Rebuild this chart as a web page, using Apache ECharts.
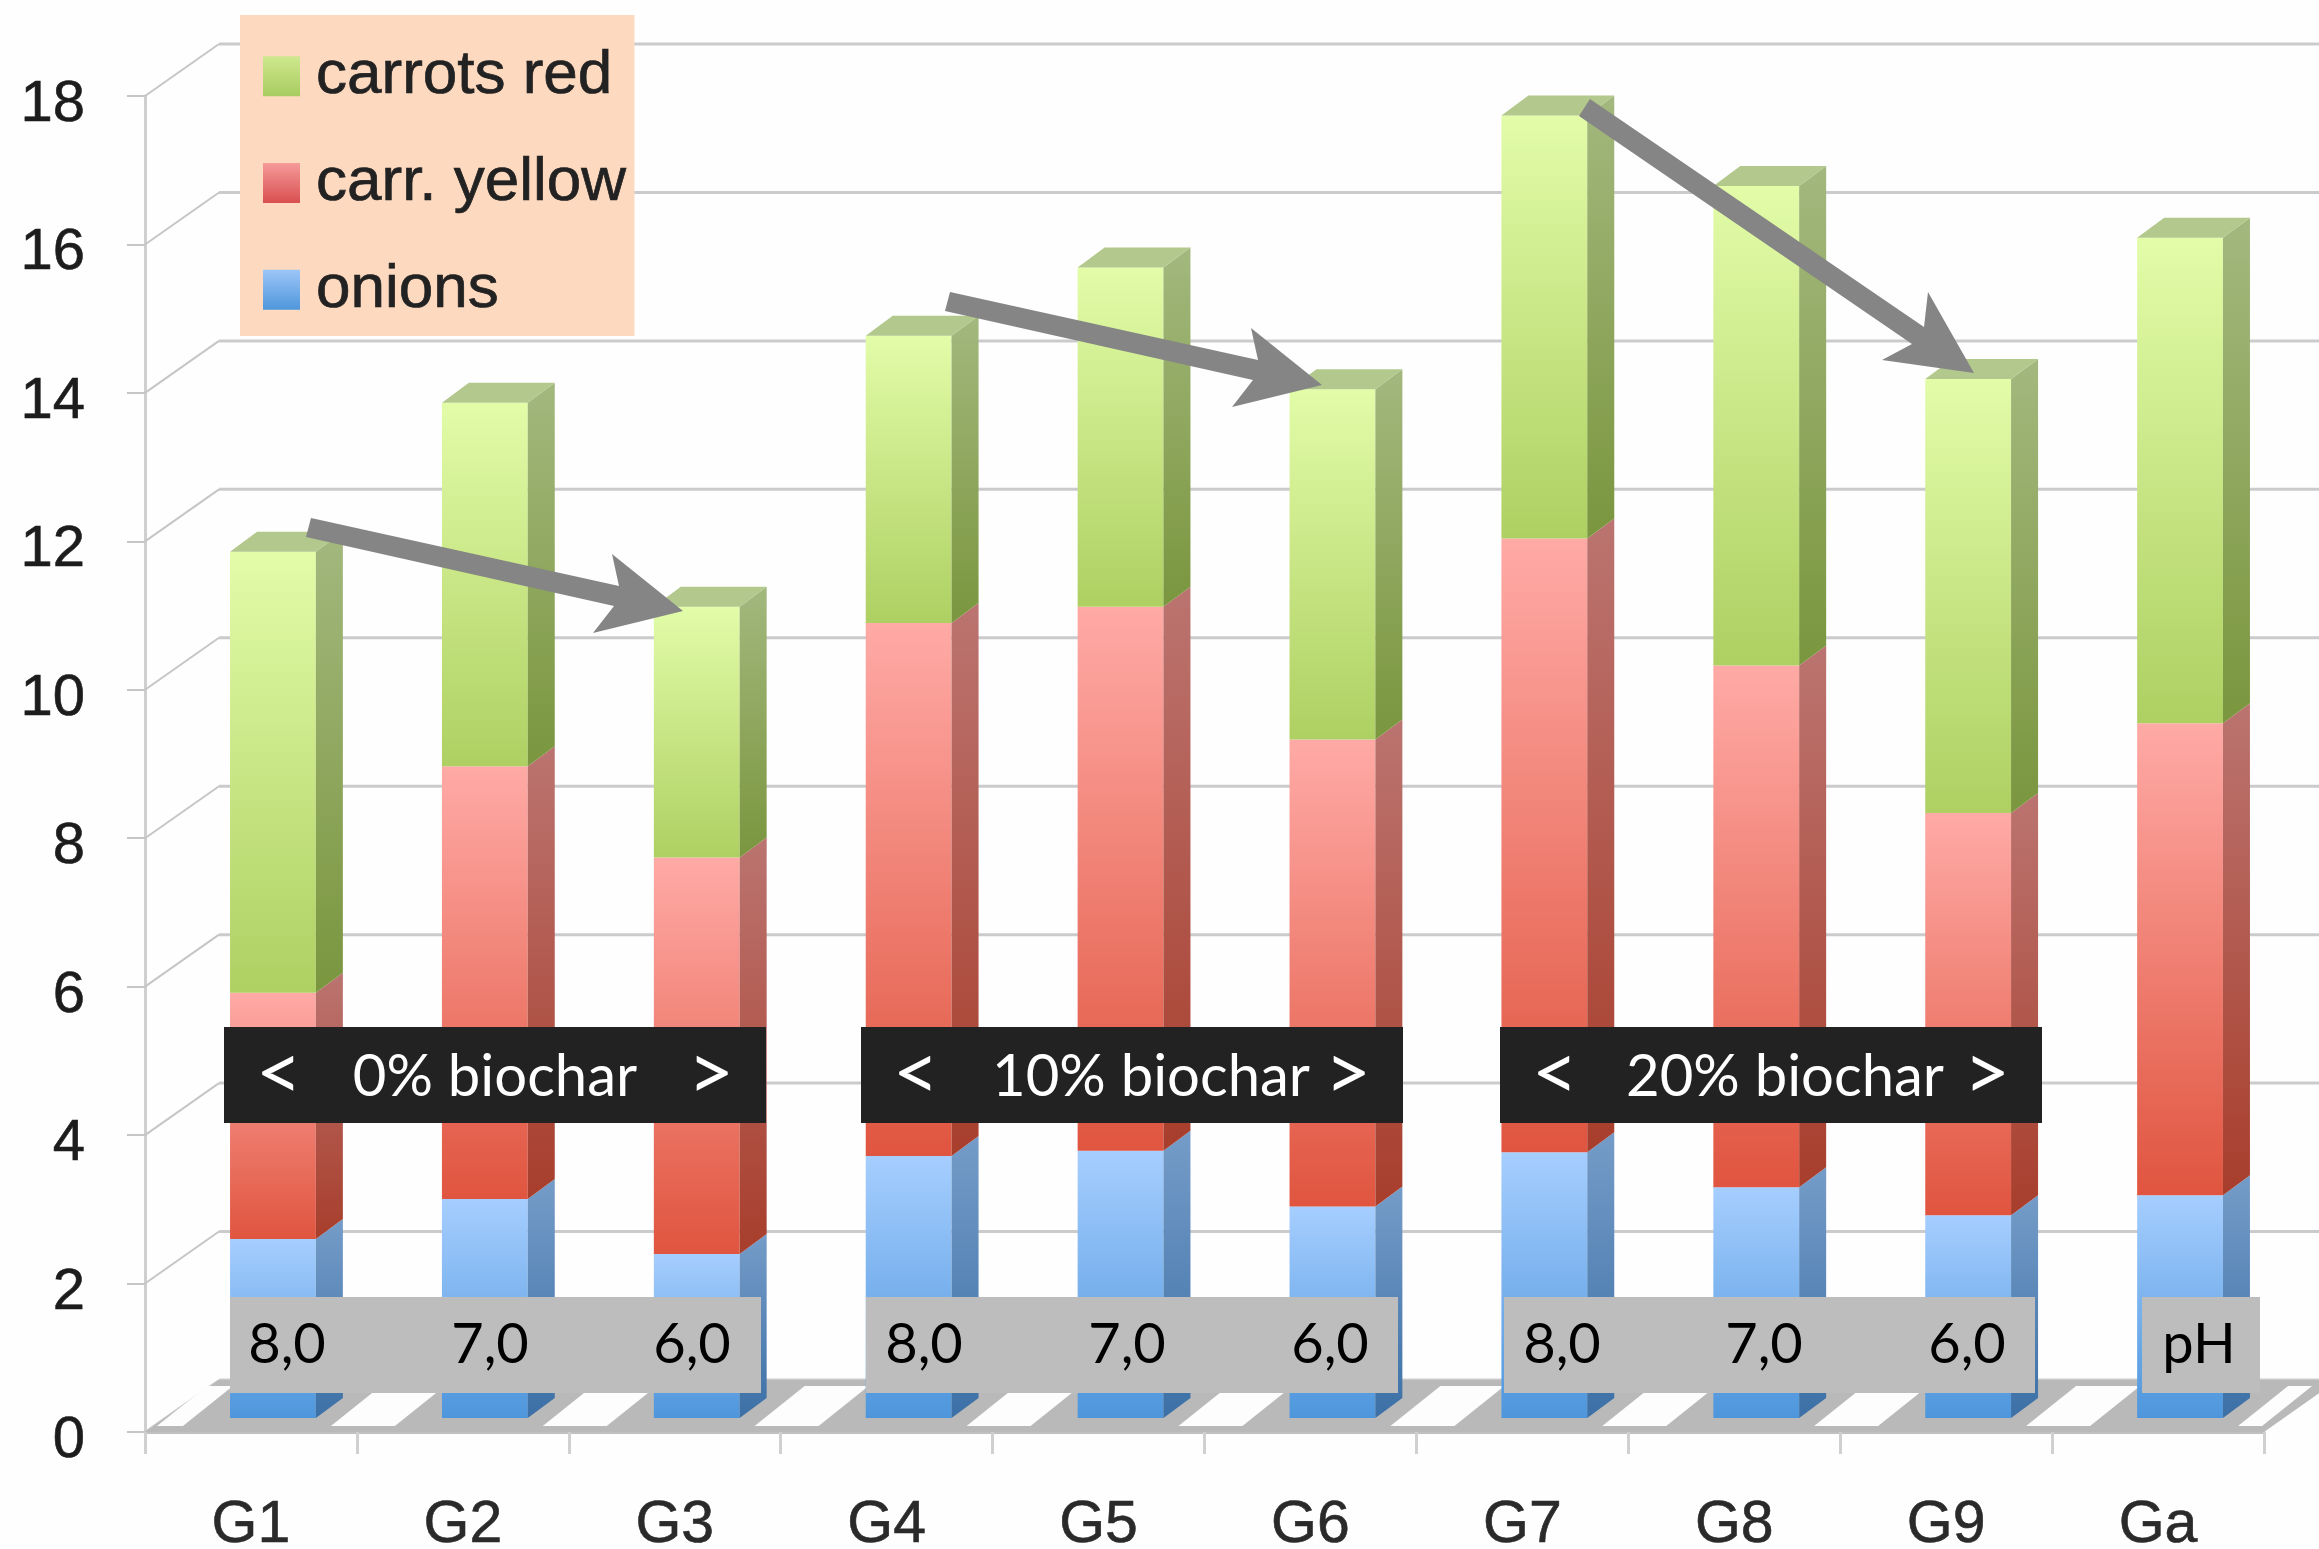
<!DOCTYPE html>
<html>
<head>
<meta charset="utf-8">
<style>html,body{margin:0;padding:0;background:#fefefe}#c{width:2319px;height:1549px}</style>
<script src="https://cdn.jsdelivr.net/npm/echarts@6/dist/echarts.min.js"></script>
</head>
<body>
<div id="c"></div>
<script>
const categories = ['G1','G2','G3','G4','G5','G6','G7','G8','G9','Ga'];
const onions = [2.41,2.95,2.21,3.53,3.60,2.85,3.58,3.11,2.73,3.00];
const carrYellow = [3.32,5.83,5.34,7.18,7.33,6.29,8.27,7.03,5.42,6.36];
const carrotsRed = [5.94,4.90,3.38,3.87,4.57,4.72,5.70,6.46,5.85,6.54];
const yTicks = [0,2,4,6,8,10,12,14,16,18];
const phLabels = ['8,0','7,0','6,0','8,0','7,0','6,0','8,0','7,0','6,0','pH'];
const biocharLabels = ['0% biochar','10% biochar','20% biochar'];

const grad = (a, b) => ({type:'linear',x:0,y:0,x2:0,y2:1,colorStops:[{offset:0,color:a},{offset:1,color:b}]});
const palette = {
  green:{front:grad('#e2fca8','#aed062'),side:grad('#a3b87e','#7a963e'),top:'#b2c88c',legend:grad('#cfe88e','#a8cc60')},
  red:{front:grad('#ffaaa6','#e0553f'),side:grad('#bb7470','#a83e2c'),top:'#c08080',legend:grad('#f59a9a','#d94f4f')},
  blue:{front:grad('#a6ceff','#4e96dc'),side:grad('#759cc8','#3c70a6'),top:'#8aa8cc',legend:grad('#9cc6f8','#4f96dc')}
};
const BAR_RATIO=0.405, SHIFT_X=22, BASE_DY=14, DEPTH_X=27, DEPTH_Y=20;
const WALL_X=74, WALL_Y=52;

function barSeries(name, base, vals, pal, isTop){
  const rows = vals.map((v,i)=>[i, base[i], base[i]+v]);
  return {
    name, type:'custom', z:5, clip:false, silent:true, animation:false,
    itemStyle:{color:pal.legend},
    encode:{x:0,y:[1,2]},
    data:rows,
    renderItem(params, api){
      const i=api.value(0), band=api.size([1,0])[0], w=band*BAR_RATIO;
      const b=api.coord([i,api.value(1)]), t=api.coord([i,api.value(2)]);
      const l=b[0]+SHIFT_X-w/2, r=l+w, yb=b[1]-BASE_DY, yt=t[1]-BASE_DY;
      const ch=[
        {type:'rect',shape:{x:l,y:yt,width:w,height:yb-yt},style:{fill:pal.front}},
        {type:'polygon',shape:{points:[[r,yt],[r+DEPTH_X,yt-DEPTH_Y],[r+DEPTH_X,yb-DEPTH_Y],[r,yb]]},style:{fill:pal.side}}
      ];
      if(isTop) ch.push({type:'polygon',shape:{points:[[l,yt],[l+DEPTH_X,yt-DEPTH_Y],[r+DEPTH_X,yt-DEPTH_Y],[r,yt]]},style:{fill:pal.top}});
      return {type:'group',children:ch};
    }
  };
}
const zeros = categories.map(()=>0);
const yBase = onions.slice();
const rBase = onions.map((v,i)=>v+carrYellow[i]);

const wallSeries = {
  type:'custom', z:1, clip:false, silent:true, animation:false, legendHoverLink:false,
  encode:{x:0,y:1}, data:yTicks.map(v=>[0,v]),
  renderItem(params, api){
    const p=api.coord([0,api.value(1)]), band=api.size([1,0])[0], x0=p[0]-band/2, y=p[1];
    return {type:'group',children:[
      {type:'line',shape:{x1:x0+WALL_X,y1:y-WALL_Y,x2:api.getWidth(),y2:y-WALL_Y},style:{stroke:'#cbcbce',lineWidth:3}},
      {type:'line',shape:{x1:x0,y1:y,x2:x0+WALL_X,y2:y-WALL_Y},style:{stroke:'#c6c6c6',lineWidth:2}}
    ]};
  }
};
const floorSeries = {
  type:'custom', z:2, clip:false, silent:true, animation:false,
  encode:{x:0,y:1}, data:categories.map((c,i)=>[i,0]),
  renderItem(params, api){
    const i=api.value(0), p=api.coord([i,0]), band=api.size([1,0])[0], c=p[0], y=p[1];
    const ch=[];
    const stripe=(a,b)=>({type:'polygon',shape:{points:[[a,y-6],[b,y-6],[b+50,y-46],[a+50,y-46]]},style:{fill:'#fdfdfd'}});
    if(i===0) ch.push({type:'polygon',shape:{points:[[p[0]-band/2,y],[p[0]-band/2+WALL_X,y-WALL_Y],[p[0]-band/2+10*band+WALL_X,y-WALL_Y],[p[0]-band/2+10*band,y]]},style:{fill:'#b9b9b9'}});
    ch.push(stripe(i===0?c-94:c-132, c-68));
    if(i===categories.length-1) ch.push(stripe(c+80,c+104));
    return {type:'group',children:ch};
  }
};

const BLACK='#222222', GRAY='#bdbdbd', ARROW='#858585', OVER='Lato, "Open Sans", sans-serif';
const gfx=[];
const txt=(s,x,y,fill,size)=>({type:'text',z:20,style:{text:s,x,y,fill,font:size+'px '+OVER,textAlign:'center',textVerticalAlign:'middle'}});
const rect=(x,y,w,h,fill)=>({type:'rect',z:19,shape:{x,y,width:w,height:h},style:{fill}});
const blackX=[224,861,1500], mainX=[495,1151,1785];
blackX.forEach((x,k)=>{
  gfx.push(rect(x,1027,542,96,BLACK));
  gfx.push(txt('<',x+55,1074,'#fff',80));
  gfx.push(txt(biocharLabels[k],mainX[k],1077,'#fff',58));
  gfx.push(txt('>',x+487,1074,'#fff',80));
});
gfx.push(rect(230,1297,531,96,GRAY),rect(866,1297,532,96,GRAY),rect(1504,1297,531,96,GRAY),rect(2142,1297,118,96,GRAY));
const phX=[287,490,692,924,1127,1330,1562,1764,1967,2199];
phLabels.forEach((s,i)=>gfx.push(txt(s,phX[i],1345,'#000',56)));
const arrowA=[[311,518],[619,586],[612,554],[683,611],[593,633],[614,606],[306,537]];
const arrowB=arrowA.map(p=>[p[0]+639,p[1]-226]);
const arrowC=[[1590,99],[1924,327],[1928,292],[1974,373],[1882,360],[1912,344],[1579,116]];
[arrowA,arrowB,arrowC].forEach(pts=>gfx.push({type:'polygon',z:18,shape:{points:pts},style:{fill:ARROW}}));

const chart=echarts.init(document.getElementById('c'),null,{renderer:'canvas'});
chart.setOption({
  animation:false,
  backgroundColor:'#fefefe',
  grid:{left:145,right:55,top:96,bottom:117,containLabel:false,outerBoundsMode:'none'},
  legend:{
    orient:'vertical',left:240,top:15,
    padding:[30,8,15,23],itemGap:44,itemWidth:37,itemHeight:40,icon:'rect',
    backgroundColor:'#fdd9bf',
    data:['carrots red','carr. yellow','onions'],
    selectedMode:false,
    textStyle:{fontFamily:'Liberation Sans',fontSize:62,color:'#222',lineHeight:40,padding:[0,0,0,11],textBorderColor:'#222',textBorderWidth:0.7}
  },
  xAxis:{type:'category',data:categories,boundaryGap:true,
    axisLine:{lineStyle:{color:'#c0c0c0',width:3}},
    axisTick:{show:true,length:22,alignWithLabel:false,lineStyle:{color:'#d0d0d0',width:3}},
    axisLabel:{fontFamily:'Liberation Sans',fontSize:59,color:'#2a2a2a',margin:64,textBorderColor:'#2a2a2a',textBorderWidth:0.6}},
  yAxis:{type:'value',min:0,max:18,interval:2,
    splitLine:{show:false},
    axisLine:{show:true,lineStyle:{color:'#cfcfcf',width:3}},
    axisTick:{show:true,length:18,lineStyle:{color:'#c6c6c6',width:2}},
    axisLabel:{fontFamily:'Liberation Sans',fontSize:58,color:'#1c1c1c',margin:60,verticalAlign:'top',lineHeight:18,textBorderColor:'#1c1c1c',textBorderWidth:0.6}},
  graphic:gfx,
  series:[wallSeries,floorSeries,
    barSeries('onions',zeros,onions,palette.blue,false),
    barSeries('carr. yellow',yBase,carrYellow,palette.red,false),
    barSeries('carrots red',rBase,carrotsRed,palette.green,true)]
});
</script>
</body>
</html>
